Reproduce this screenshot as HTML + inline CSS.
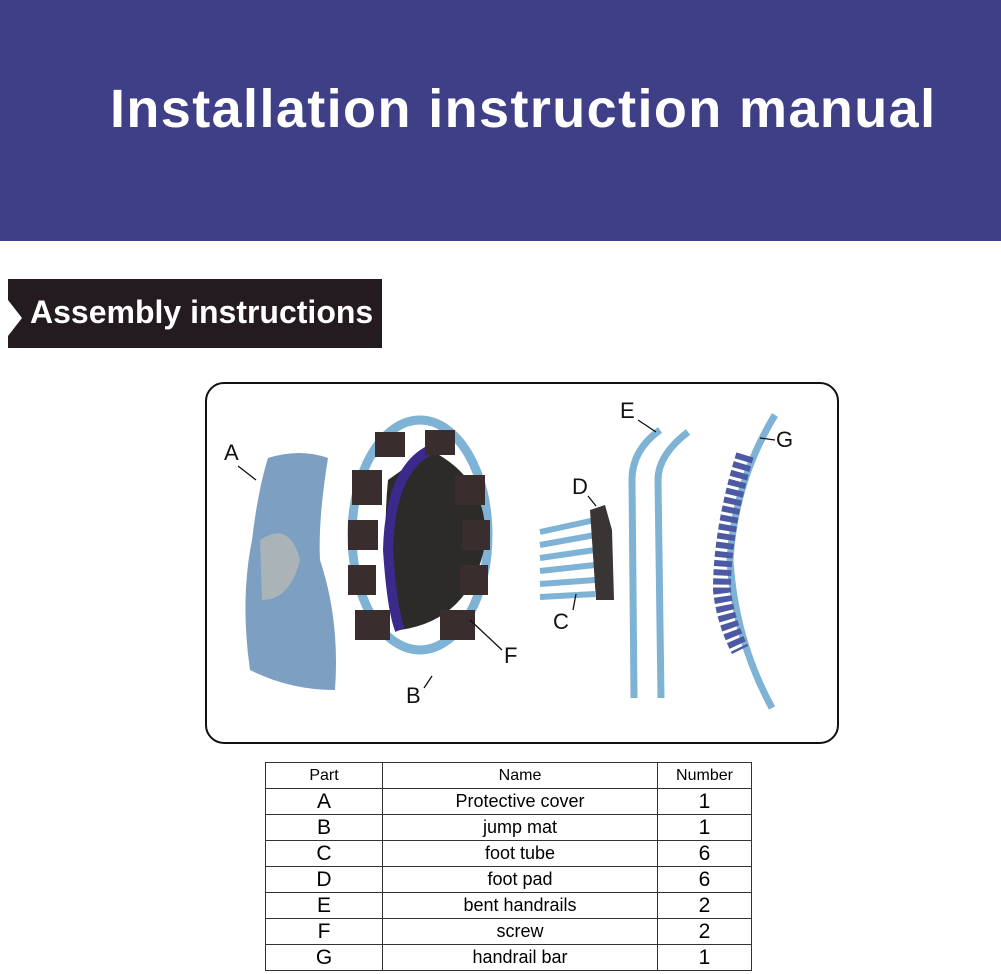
<!DOCTYPE html>
<html><head><style>
body{margin:0;width:1001px;height:974px;background:#fff;position:relative;overflow:hidden;font-family:"Liberation Sans",sans-serif}
.ban{position:absolute;left:0;top:0;width:1001px;height:241px;background:#3e3f86}
.title{position:absolute;left:110px;top:78px;color:#fff;font:bold 54px "Liberation Sans",sans-serif;letter-spacing:1.4px;white-space:nowrap}
.lab{position:absolute;left:8px;top:279px;width:374px;height:69px;background:#231b20}
.labt{position:absolute;left:30px;top:294px;color:#fff;font:bold 32px "Liberation Sans",sans-serif;white-space:nowrap}
table{position:absolute;left:265px;top:762px;border-collapse:collapse;font-size:18px}
td{border:1px solid #333;text-align:center;height:25px;padding:0;line-height:25px}
</style></head><body>
<div class="ban"></div>
<div class="title">Installation instruction manual</div>
<div class="lab"></div>
<svg style="position:absolute;left:0;top:0" width="1001" height="974">
<polygon points="8,300 22,318 8,336" fill="#fff"/>
<rect x="206" y="383" width="632" height="360" rx="18" fill="#fff" stroke="#111" stroke-width="2"/>
<path d="M268,458 Q300,448 328,458 Q318,520 320,560 Q340,620 335,690 Q290,690 250,670 Q240,600 252,540 Q258,490 268,458Z" fill="#7c9fc2"/>
<path d="M260,540 Q290,520 300,560 Q290,600 262,600Z" fill="#aab3b8"/>
<ellipse cx="420" cy="535" rx="68" ry="115" fill="none" stroke="#7fb3d5" stroke-width="9"/>
<path d="M430,450 Q490,480 485,545 Q470,620 400,630 Q380,560 388,480Z" fill="#2d2a2a"/>
<path d="M430,450 Q390,470 388,550 Q392,610 400,630" fill="none" stroke="#3b2a8c" stroke-width="10"/>
<g fill="#3a2d2d">
<rect x="352" y="470" width="30" height="35"/><rect x="348" y="520" width="30" height="30"/><rect x="348" y="565" width="28" height="30"/><rect x="355" y="610" width="35" height="30"/>
<rect x="455" y="475" width="30" height="30"/><rect x="462" y="520" width="28" height="30"/><rect x="460" y="565" width="28" height="30"/><rect x="440" y="610" width="35" height="30"/>
<rect x="375" y="432" width="30" height="25"/><rect x="425" y="430" width="30" height="25"/>
</g>
<g stroke="#7fb3d5" stroke-width="6">
<line x1="540" y1="532" x2="595" y2="520"/><line x1="540" y1="545" x2="595" y2="535"/><line x1="540" y1="558" x2="595" y2="550"/><line x1="540" y1="571" x2="595" y2="565"/><line x1="540" y1="584" x2="595" y2="580"/><line x1="540" y1="597" x2="595" y2="594"/>
</g>
<path d="M590,510 L605,505 L612,530 L614,600 L596,600 Z" fill="#3a3535"/>
<g stroke="#7fb3d5" stroke-width="7" fill="none">
<path d="M634,698 L632,480 Q632,450 660,430"/>
<path d="M661,698 L658,480 Q658,455 688,432"/>
<path d="M775,415 Q735,480 730,560 Q735,640 772,708"/>
</g>
<path d="M745,455 Q722,530 722,590 Q725,620 740,650" fill="none" stroke="#4d5aa3" stroke-width="18" stroke-dasharray="6,3"/>
<g font-family="Liberation Sans,sans-serif" font-size="22" fill="#111">
<text x="224" y="460">A</text><text x="406" y="703">B</text><text x="553" y="629">C</text><text x="572" y="494">D</text><text x="620" y="418">E</text><text x="504" y="663">F</text><text x="776" y="447">G</text>
</g>
<g stroke="#111" stroke-width="1.3">
<line x1="238" y1="466" x2="256" y2="480"/><line x1="424" y1="688" x2="432" y2="676"/><line x1="573" y1="610" x2="576" y2="594"/><line x1="588" y1="496" x2="596" y2="506"/><line x1="638" y1="420" x2="656" y2="432"/><line x1="502" y1="650" x2="470" y2="620"/><line x1="775" y1="440" x2="760" y2="438"/>
</g>
</svg>
<div class="labt">Assembly instructions</div>
<table>
<tr><td style="width:116px;font-size:16px">Part</td><td style="width:274px;font-size:16px">Name</td><td style="width:93px;font-size:16px">Number</td></tr>
<tr><td style="font-size:21px">A</td><td>Protective cover</td><td style="font-size:21px">1</td></tr>
<tr><td style="font-size:21px">B</td><td>jump mat</td><td style="font-size:21px">1</td></tr>
<tr><td style="font-size:21px">C</td><td>foot tube</td><td style="font-size:21px">6</td></tr>
<tr><td style="font-size:21px">D</td><td>foot pad</td><td style="font-size:21px">6</td></tr>
<tr><td style="font-size:21px">E</td><td>bent handrails</td><td style="font-size:21px">2</td></tr>
<tr><td style="font-size:21px">F</td><td>screw</td><td style="font-size:21px">2</td></tr>
<tr><td style="font-size:21px">G</td><td>handrail bar</td><td style="font-size:21px">1</td></tr>
</table>
</body></html>
